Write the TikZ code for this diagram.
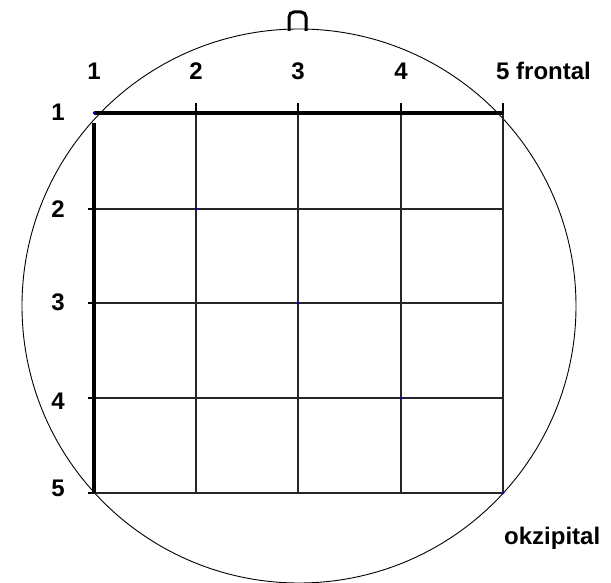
\documentclass[tikz,border=0pt]{standalone}
\usepackage{fontspec}
\setmainfont{Liberation Sans}
\tikzset{every node/.style={font=\bfseries\fontsize{24}{27}\selectfont, inner sep=0pt}}
\colorlet{headcol}{black}
\colorlet{gridcol}{black!85}
\colorlet{edgecol}{black}
\colorlet{labelcol}{black}
\colorlet{dotcol}{blue!75!black}

\begin{document}
\begin{tikzpicture}[x=1pt, y=-1pt]
  \useasboundingbox (0,0) rectangle (611,583);

  % Grid points (column i, row j).
  \foreach \i/\x in {1/94,2/196,3/298,4/401,5/503} {
    \foreach \j/\y in {1/113,2/209,3/303,4/398,5/493} {
      \coordinate (p-\i-\j) at (\x,\y);
    }
  }

  % Head outline and nose.
  \coordinate (centre) at (299,306);
  \draw[line width=0.9pt, headcol] (centre) circle[radius=277];
  \coordinate (nose-l) at (289,31);
  \coordinate (nose-r) at (306,31);
  \draw[line width=3pt, headcol, rounded corners=5pt]
    (nose-l) -- ++(0,-19) -- ++(17,0) -- (nose-r);

  % Thin grid lines.
  \foreach \k in {2,3,4,5} {
    \draw[line width=1.1pt, gridcol] (p-\k-1) -- (p-\k-5);
    \draw[line width=1.1pt, gridcol] (p-1-\k) -- (p-5-\k);
  }

  % Thick edges (top and left).
  \draw[line width=3.2pt, edgecol] (p-1-1) -- (p-5-1);
  \draw[line width=3.2pt, edgecol] ([yshift=-10pt]p-1-1) -- (p-1-5);

  % Tick marks.
  \foreach \k in {2,3,4,5} {
    \draw[line width=2.2pt, edgecol] (p-\k-1) -- ++(0,-10);
    \draw[line width=2.2pt, edgecol] (p-1-\k) -- ++(-6,0);
  }

  % Electrode marks on the diagonal.
  \foreach \k in {1,...,5} {
    \fill[dotcol] (p-\k-\k) circle[radius=1.5];
  }

  % Column labels.
  \foreach \i/\x in {1/94,2/196,3/298,4/401} {
    \node[anchor=base, text=labelcol] (col-\i) at (\x,80) {\i};
  }
  \node[anchor=base west, text=labelcol] (col-5) at (496,80) {5 frontal};

  % Row labels.
  \foreach \j/\y in {1/112,2/209,3/302,4/401,5/488} {
    \node[anchor=east, text=labelcol] (row-\j) at (65,\y) {\j};
  }

  % Back of the head.
  \node[anchor=base west, text=labelcol] (back) at (504,544) {okzipital};

\end{tikzpicture}
\end{document}
